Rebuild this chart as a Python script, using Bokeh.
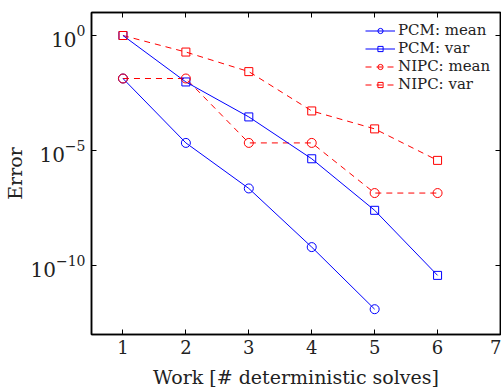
from bokeh.plotting import figure
from bokeh.models import FixedTicker, LinearAxis, Legend, LegendItem, Range1d, CustomJSTickFormatter
from bokeh.embed import file_html
from bokeh.resources import INLINE

work = [1, 2, 3, 4, 5, 6]
pcm_mean_x = [1, 2, 3, 4, 5]
pcm_mean = [10**-1.87, 10**-4.67, 10**-6.65, 10**-9.2, 10**-11.9]
pcm_var = [10**0, 10**-2.02, 10**-3.54, 10**-5.36, 10**-7.6, 10**-10.43]
nipc_mean = [10**-1.87, 10**-1.87, 10**-4.67, 10**-4.67, 10**-6.85, 10**-6.85]
nipc_var = [10**0, 10**-0.72, 10**-1.57, 10**-3.28, 10**-4.06, 10**-5.43]
x_ticks = [1, 2, 3, 4, 5, 6, 7]
y_ticks = [1e-10, 1e-5, 1e0]

FONT = "DejaVu Serif"

p = figure(width=501, height=390, y_axis_type="log",
           x_range=Range1d(0.5, 7), y_range=Range1d(1e-13, 10**1.0),
           output_backend="svg", toolbar_location=None,
           min_border_left=91, min_border_right=1, min_border_top=12, min_border_bottom=56)
p.grid.visible = False
p.outline_line_color = "black"
p.outline_line_width = 1.5

blue = "#0000ff"
red = "#ff0000"

r4 = p.line(work, nipc_var, line_color=red, line_width=1, line_dash="6 5")
r3 = p.line(work, nipc_mean, line_color=red, line_width=1, line_dash="6 5")
r2 = p.line(work, pcm_var, line_color=blue, line_width=1)
r1 = p.line(pcm_mean_x, pcm_mean, line_color=blue, line_width=1)
m1 = p.scatter(pcm_mean_x, pcm_mean, marker="circle", size=9, line_color=blue, fill_color=None)
m2 = p.scatter(work, pcm_var, marker="square", size=8, line_color=blue, fill_color=None)
m3 = p.scatter(work, nipc_mean, marker="circle", size=9, line_color=red, fill_color=None)
m4 = p.scatter(work, nipc_var, marker="square", size=8, line_color=red, fill_color=None)

def style(ax):
    ax.major_tick_in = 5
    ax.major_tick_out = 0
    ax.minor_tick_in = 0
    ax.minor_tick_out = 0
    ax.axis_line_width = 1.5
    ax.major_label_text_font = FONT
    ax.major_label_text_font_size = "18px"
    ax.major_label_text_color = "#222222"
    ax.axis_label_text_font = FONT
    ax.axis_label_text_font_size = "19px"
    ax.axis_label_text_font_style = "normal"
    ax.axis_label_text_color = "#222222"

p.xaxis.ticker = FixedTicker(ticks=x_ticks)
p.yaxis.ticker = FixedTicker(ticks=y_ticks)
p.xaxis.axis_label = "Work [# deterministic solves]"
p.yaxis.axis_label = "Error"
style(p.xaxis[0])
style(p.yaxis[0])
p.xaxis.major_label_standoff = 5
p.xaxis.axis_label_standoff = 9
p.yaxis.major_label_standoff = 6
p.yaxis.axis_label_standoff = 2
p.yaxis[0].major_label_text_font_size = "20px"

top = LinearAxis(ticker=FixedTicker(ticks=x_ticks), major_label_standoff=0, axis_label_standoff=0)
style(top)
top.major_label_text_font_size = "1px"
top.major_label_text_alpha = 0
top.major_label_overrides = {t: " " for t in x_ticks}
p.add_layout(top, "above")
right = LinearAxis(ticker=FixedTicker(ticks=y_ticks), major_label_standoff=0, axis_label_standoff=0,
                   formatter=CustomJSTickFormatter(code="return ''"))
style(right)
right.major_label_text_font_size = "1px"
right.major_label_text_alpha = 0
p.add_layout(right, "right")

legend = Legend(items=[
    LegendItem(label="PCM: mean", renderers=[r1, m1]),
    LegendItem(label="PCM: var", renderers=[r2, m2]),
    LegendItem(label="NIPC: mean", renderers=[r3, m3]),
    LegendItem(label="NIPC: var", renderers=[r4, m4]),
], location=(274, 241))
legend.border_line_color = None
legend.background_fill_alpha = 0
legend.label_text_font = FONT
legend.label_text_font_size = "15px"
legend.label_text_color = "#222222"
legend.glyph_width = 30
legend.glyph_height = 13
legend.label_height = 13
legend.label_standoff = 3
legend.spacing = -4
legend.padding = 0
legend.margin = 0
p.add_layout(legend)

open("out.html", "w").write(file_html(p, INLINE))
